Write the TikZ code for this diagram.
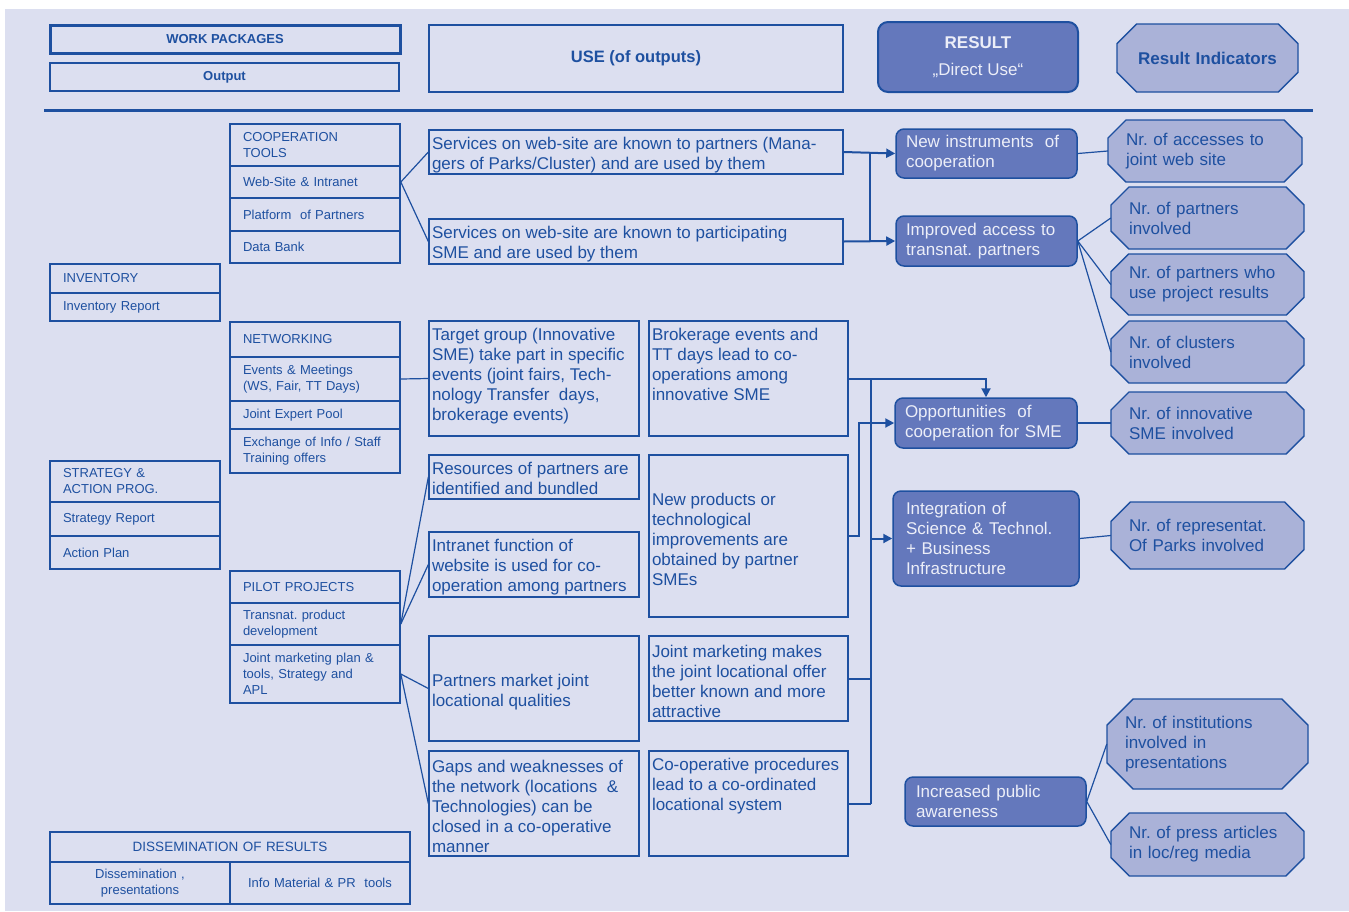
\documentclass[tikz,border=0pt]{standalone}
\usepackage{fontspec}
\setmainfont{Liberation Sans}
\usetikzlibrary{arrows.meta}
\frenchspacing
\pgfdeclarelayer{bg}\pgfdeclarelayer{mid}\pgfsetlayers{bg,mid,main}
\definecolor{bgc}{RGB}{220,223,240}
\definecolor{lc}{RGB}{30,80,160}
\definecolor{resf}{RGB}{100,120,188}
\definecolor{octf}{RGB}{170,178,216}
\definecolor{rtext}{RGB}{236,238,248}
\newcommand\fmid{\fontsize{17}{20}\selectfont}
\newcommand\fsmall{\fontsize{13}{16}\selectfont}
\newcommand\fhead{\fontsize{13}{16}\selectfont\bfseries}
% rectangle node from corners
\newcommand\rbox[7][]{%
  \pgfmathsetmacro\rbw{#5-#3}\pgfmathsetmacro\rbh{#6-#4}%
  \node[#1, minimum width=\rbw pt, minimum height=\rbh pt] (#2) at ({(#3+#5)/2},{(#4+#6)/2}) {#7};}
% text block for middle boxes
\newcommand\mtxt[4]{\parbox[c][#1pt][#3]{#2pt}{\raggedright\rule{0pt}{19pt}#4}}
% octagon
\newcommand\octo[7][]{%
  \pgfmathsetmacro\myoc{0.29*(#6-#4)}%
  \pgfmathsetmacro\octw{#5-#3}\pgfmathsetmacro\octh{#6-#4}\pgfmathsetmacro\octtw{#5-#3-36}%
  \begin{pgfonlayer}{mid}
  \filldraw[octsty] ({#3+\myoc},#4) -- ({#5-\myoc},#4) -- (#5,{#4+\myoc}) -- (#5,{#6-\myoc}) -- ({#5-\myoc},#6) -- ({#3+\myoc},#6) -- (#3,{#6-\myoc}) -- (#3,{#4+\myoc}) -- cycle;
  \end{pgfonlayer}
  \node[octtxt, minimum width=\octw pt, minimum height=\octh pt, text width=\octtw pt, #1] (#2) at ({(#3+#5)/2},{(#4+#6)/2}) {#7};}
\begin{document}
\begin{tikzpicture}[x=1pt,y=-1pt,
  hbox/.style={draw=lc, text=lc, font=\fhead, inner sep=0pt},
  lbox/.style={draw=lc, line width=1.6pt, inner sep=0pt, align=left, text width=144pt, font=\fsmall, text=lc},
  mbox/.style={draw=lc, line width=1.3pt, inner sep=0pt, text=lc, font=\fmid},
  resbox/.style={draw=lc, line width=1.5pt, fill=resf, rounded corners=8pt, inner sep=0pt, align=left, text=rtext, font=\fmid},
  octsty/.style={draw=lc, line width=1.4pt, fill=octf},
  octtxt/.style={inner sep=0pt, align=left, text=lc, font=\fmid},
  conn/.style={draw=lc, line width=1.2pt},
  bus/.style={draw=lc, line width=2pt},
  arr/.style={bus, -{Triangle[length=9pt,width=9pt]}}]
\begin{pgfonlayer}{bg}
\fill[bgc] (5,9) rectangle (1349,911);
\end{pgfonlayer}
\useasboundingbox (0,0) rectangle (1349,911);

% header
\rbox[hbox, line width=3pt]{wp}{50}{25}{400}{53}{WORK PACKAGES}
\rbox[hbox, line width=2pt]{outp}{50}{63}{399}{91}{Output}
\rbox[hbox, line width=2.5pt, font=\fontsize{16.5}{20}\selectfont\bfseries]{use}{429}{25}{843}{92}{\raisebox{-2pt}{USE (of outputs)}}
\rbox[resbox, align=center, rounded corners=10pt, line width=2pt]{res}{878}{22}{1078}{92}{\raisebox{-3pt}{\bfseries RESULT}\\[10pt]„Direct Use“}
\octo[align=center, font=\fontsize{17}{20}\selectfont\bfseries]{ind}{1117}{24}{1298}{92}{Result Indicators}
\draw[lc, line width=3pt] (44,110) -- (1313,110);

% left column
\rbox[lbox]{ct}{230}{124}{400}{166}{COOPERATION\\TOOLS}
\rbox[lbox]{web}{230}{166}{400}{198}{Web-Site \& Intranet}
\rbox[lbox]{plat}{230}{198}{400}{231}{Platform~ of Partners}
\rbox[lbox]{data}{230}{231}{400}{263}{Data Bank}
\rbox[lbox]{net}{230}{322}{400}{357}{NETWORKING}
\rbox[lbox]{events}{230}{357}{400}{401}{Events \& Meetings\\(WS, Fair, TT Days)}
\rbox[lbox]{expert}{230}{401}{400}{429}{Joint Expert Pool}
\rbox[lbox]{exch}{230}{429}{400}{473}{Exchange of Info / Staff\\Training offers}
\rbox[lbox]{pilot}{230}{571}{400}{603}{PILOT PROJECTS}
\rbox[lbox]{trans}{230}{603}{400}{645}{Transnat. product\\development}
\rbox[lbox]{jmp}{230}{645}{400}{703}{Joint marketing plan \&\\tools, Strategy and\\APL}

\rbox[lbox]{inv}{50}{264}{220}{293}{INVENTORY}
\rbox[lbox]{invrep}{50}{293}{220}{321}{Inventory Report}
\rbox[lbox]{strat}{50}{461}{220}{502}{STRATEGY \&\\ACTION PROG.}
\rbox[lbox]{stratrep}{50}{502}{220}{536}{Strategy Report}
\rbox[lbox]{action}{50}{536}{220}{569}{Action Plan}

\rbox[lbox, align=center, text width=340pt, font=\fontsize{13.5}{16}\selectfont]{dis}{50}{832}{410}{862}{DISSEMINATION OF RESULTS}
\rbox[lbox, align=center, text width=160pt]{dis1}{50}{862}{230}{904}{Dissemination ,\\presentations}
\rbox[lbox, align=center, text width=160pt]{dis2}{230}{862}{410}{904}{Info Material \& PR~ tools}

% middle boxes
\rbox[mbox]{srv1}{429}{130}{843}{174}{\mtxt{44}{408}{t}{Services on web-site are known to partners (Mana-\\gers of Parks/Cluster) and are used by them}}
\rbox[mbox]{srv2}{429}{219}{843}{264}{\mtxt{45}{408}{t}{Services on web-site are known to participating\\SME and are used by them}}
\rbox[mbox]{tg}{429}{321}{639}{436}{\mtxt{115}{204}{t}{Target group (Innovative\\SME) take part in specific\\events (joint fairs, Tech-\\nology Transfer~ days,\\brokerage events)}}
\rbox[mbox]{brk}{649}{321}{848}{436}{\mtxt{115}{193}{t}{Brokerage events and\\TT days lead to co-\\operations among\\innovative SME}}
\rbox[mbox]{rsc}{429}{455}{639}{499}{\mtxt{44}{204}{t}{Resources of partners are\\identified and bundled}}
\rbox[mbox]{intra}{429}{532}{639}{597}{\mtxt{65}{204}{t}{Intranet function of\\website is used for co-\\operation among partners}}
\rbox[mbox]{newp}{649}{455}{848}{617}{\mtxt{162}{193}{c}{New products or\\technological\\improvements are\\obtained by partner\\SMEs}}
\rbox[mbox]{pmk}{429}{636}{639}{741}{\mtxt{105}{204}{c}{Partners market joint\\locational qualities}}
\rbox[mbox]{jmm}{649}{636}{848}{721}{\mtxt{85}{193}{c}{Joint marketing makes\\the joint locational offer\\better known and more\\attractive}}
\rbox[mbox]{gaps}{429}{751}{639}{856}{\mtxt{105}{204}{c}{Gaps and weaknesses of\\the network (locations~ \&\\Technologies) can be\\closed in a co-operative\\manner}}
\rbox[mbox]{cp}{649}{751}{848}{856}{\mtxt{105}{193}{t}{Co-operative procedures\\lead to a co-ordinated\\locational system}}

% result boxes
\rbox[resbox, text width=161pt]{ni}{896}{129}{1077}{178}{New instruments~ of\\cooperation}
\rbox[resbox, text width=161pt]{ia}{896}{216}{1077}{266}{Improved access to\\transnat. partners}
\rbox[resbox, text width=162pt]{op}{895}{398}{1077}{448}{Opportunities~ of\\cooperation for SME}
\rbox[resbox, text width=160pt]{ig}{893}{491}{1079}{586}{Integration of\\Science \& Technol.\\+ Business\\Infrastructure}
\rbox[resbox, text width=159pt]{ipa}{905}{777}{1086}{826}{Increased public\\awareness}

% indicators
\octo{o1}{1108}{120}{1302}{182}{Nr. of accesses to\\joint web site}
\octo{o2}{1111}{187}{1304}{249}{Nr. of partners\\involved}
\octo{o3}{1111}{254}{1304}{315}{Nr. of partners who\\use project results}
\octo{o4}{1111}{321}{1304}{383}{Nr. of clusters\\involved}
\octo{o5}{1111}{392}{1304}{454}{Nr. of innovative\\SME involved}
\octo{o6}{1111}{502}{1304}{569}{Nr. of representat.\\Of Parks involved}
\octo{o7}{1107}{699}{1308}{789}{Nr. of institutions\\involved in\\presentations}
\octo{o8}{1111}{813}{1304}{876}{Nr. of press articles\\in loc/reg media}

% connectors: left to middle
\draw[conn] (web.east) -- (srv1.west);
\draw[conn] (web.east) -- (srv2.west);
\draw[conn] (events.east) -- (tg.west);
\draw[conn] (trans.east) -- (rsc.west);
\draw[conn] (trans.east) -- (intra.west);
\draw[conn] (jmp.east) -- (pmk.west);
\draw[conn] (jmp.east) -- (gaps.west);

% middle to results
\coordinate (sx) at (870,0);
\coordinate (bx) at (871,0);
\draw[arr] (srv1.east) -- (ni.west);
\draw[arr] (srv2.east) -- (ia.west);
\draw[bus] (sx |- srv1.east) -- (sx |- srv2.east);
\draw[arr] (brk.east) -| (op.north);
\draw[arr] (newp.east) -- ++(10,0) |- (op.west);
\draw[bus] (bx |- brk.east) -- (bx |- cp.east);
\draw[bus] (jmm.east) -- (bx |- jmm.east);
\draw[bus] (cp.east) -- (bx |- cp.east);
\draw[arr] (bx |- ig.west) -- (ig.west);

% results to indicators
\draw[conn] (ni.east) -- (o1.west);
\draw[conn] (ia.east) -- (o2.west);
\draw[conn] (ia.east) -- (o3.west);
\draw[conn] (ia.east) -- (o4.west);
\draw[conn] (op.east) -- (o5.west);
\draw[conn] (ig.east) -- (o6.west);
\draw[conn] (ipa.east) -- (o7.west);
\draw[conn] (ipa.east) -- (o8.west);
\end{tikzpicture}
\end{document}
